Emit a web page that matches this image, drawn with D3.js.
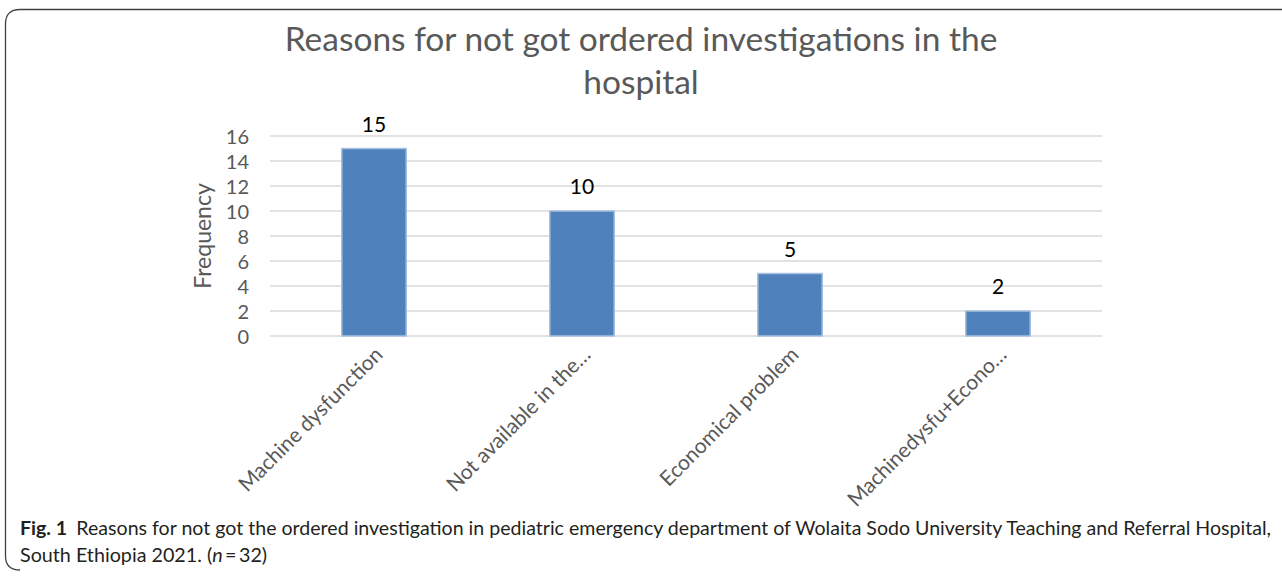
<!DOCTYPE html>
<html><head><meta charset="utf-8">
<script src="https://cdn.jsdelivr.net/npm/d3@7"></script>
<style>body{margin:0;background:#fff}svg{display:block}</style>
</head><body>
<svg id="c" width="1282" height="576"></svg>
<script>
const categories = ["Machine dysfunction","Not available in the…","Economical problem","Machinedysfu+Econo…"];
const values = [15, 10, 5, 2];
const yTicks = [0,2,4,6,8,10,12,14,16];
const titleLines = ["Reasons for not got ordered investigations in the","hospital"];
const yLabel = "Frequency";
const captionBold = "Fig. 1";
const captionLine1 = "Reasons for not got the ordered investigation in pediatric emergency department of Wolaita Sodo University Teaching and Referral Hospital,";
const captionLine2a = "South Ethiopia 2021. (";
const captionN = "n";
const captionLine2b = "\u2009=\u200932)";

const svg = d3.select("#c");
const font = "Lato, 'Open Sans', sans-serif";

// frame
svg.append("path")
  .attr("d","M1282,9.5 L20,9.5 Q5.5,9.5 5.5,24 L5.5,556 Q5.5,570 20,570")
  .attr("fill","none").attr("stroke","#404040").attr("stroke-width",1.3);

const x = d3.scaleBand().domain(categories).range([270,1102]).paddingInner(0.69).paddingOuter(0.345);
const y = d3.scaleLinear().domain([0,16]).range([336,136]);

// gridlines
svg.append("g").selectAll("line").data(yTicks).join("line")
  .attr("x1",270).attr("x2",1102)
  .attr("y1",d=>y(d)).attr("y2",d=>y(d))
  .attr("stroke","#d9d9d9").attr("stroke-width",1.5);

// y axis labels
const yAxis = d3.axisLeft(y).tickValues(yTicks).tickSize(0).tickPadding(0);
const ga = svg.append("g").attr("transform","translate(249,0)").call(yAxis);
ga.select(".domain").remove();
ga.selectAll("text").attr("font-family",font).attr("font-size",20).attr("fill","#595959").attr("dy","0.36em");

// bars
svg.append("g").selectAll("rect").data(values).join("rect")
  .attr("x",(d,i)=>x(categories[i]))
  .attr("y",d=>y(d))
  .attr("width",x.bandwidth())
  .attr("height",d=>y(0)-y(d))
  .attr("fill","#4f81bd").attr("stroke","#a9c1e0").attr("stroke-width",1.5);

// data labels
svg.append("g").selectAll("text").data(values).join("text")
  .attr("x",(d,i)=>x(categories[i])+x.bandwidth()/2)
  .attr("y",d=>y(d)-17)
  .attr("text-anchor","middle")
  .attr("font-family",font).attr("font-size",21).attr("fill","#000")
  .text(d=>d);

// x labels rotated
svg.append("g").selectAll("text").data(categories).join("text")
  .attr("transform",d=>`translate(${x(d)+x.bandwidth()/2+10},${356}) rotate(-45)`)
  .attr("text-anchor","end")
  .attr("font-family",font).attr("font-size",21).attr("fill","#595959")
  .text(d=>d);

// y label
svg.append("text")
  .attr("transform","translate(211,236) rotate(-90)")
  .attr("text-anchor","middle")
  .attr("font-family",font).attr("font-size",23).attr("fill","#595959")
  .text(yLabel);

// title
svg.append("g").selectAll("text").data(titleLines).join("text")
  .attr("x",641).attr("y",(d,i)=>51+i*43)
  .attr("text-anchor","middle")
  .attr("font-family",font).attr("font-size",33.5).attr("fill","#595959")
  .text(d=>d);

// caption
const t1 = svg.append("text").attr("x",20).attr("y",535).attr("font-family",font).attr("font-size",19).attr("fill","#231f20");
t1.append("tspan").attr("font-weight","bold").text(captionBold);
t1.append("tspan").attr("dx",9).text(captionLine1);
const t2 = svg.append("text").attr("x",20).attr("y",562).attr("font-family",font).attr("font-size",19).attr("fill","#231f20");
t2.append("tspan").text(captionLine2a);
t2.append("tspan").attr("font-style","italic").text(captionN);
t2.append("tspan").text(captionLine2b);
// fit caption width
const w1 = t1.node().getComputedTextLength();
t1.attr("textLength",1251).attr("lengthAdjust","spacingAndGlyphs");
const ratio = 1251/w1;
t2.attr("textLength",t2.node().getComputedTextLength()*ratio).attr("lengthAdjust","spacingAndGlyphs");
</script>
</body></html>
